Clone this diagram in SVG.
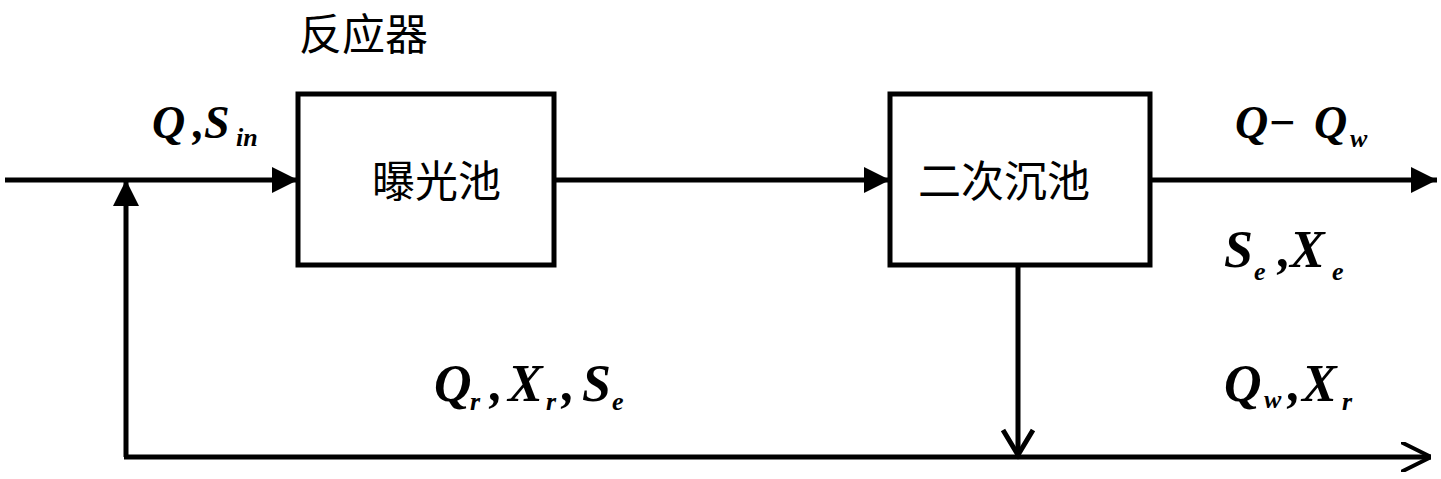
<svg xmlns="http://www.w3.org/2000/svg" width="1441" height="479" viewBox="0 0 1441 479">
<style>
.box{fill:#fff;stroke:#000;stroke-width:5}
.ln{fill:none;stroke:#000;stroke-width:5}
.cn{font-family:"Noto Sans CJK SC","Noto Sans CJK JP",sans-serif;font-size:43px;fill:#000}
.m{font-family:"Liberation Serif",serif;font-style:italic;font-weight:bold;font-size:46px;fill:#000}
.b{font-size:52px}
.s{font-size:26px}
</style>
<defs>
<marker id="fa" viewBox="0 0 10 10" refX="10" refY="5" markerWidth="26" markerHeight="26" markerUnits="userSpaceOnUse" orient="auto">
<path d="M0,0 L10,5 L0,10 Z" fill="#000"/>
</marker>
<marker id="oa" viewBox="0 0 10 10" refX="10" refY="5" markerWidth="30" markerHeight="30" markerUnits="userSpaceOnUse" orient="auto">
<path d="M0,0 L10,5 L0,10" fill="none" stroke="#000" stroke-width="1.3"/>
</marker>
</defs>
<text class="cn" x="299" y="50">反应器</text>
<g id="connectors">
<line class="ln" x1="5" y1="180" x2="298" y2="180" marker-end="url(#fa)"/>
<line class="ln" x1="555" y1="180" x2="890" y2="180" marker-end="url(#fa)"/>
<line class="ln" x1="1150" y1="180" x2="1437" y2="180" marker-end="url(#fa)"/>
<line class="ln" x1="126" y1="457" x2="126" y2="180" marker-end="url(#fa)"/>
<polyline class="ln" points="1018,265 1018,456"/>
<path class="ln" d="M1003,430 L1018,455 L1033,430"/>
<line class="ln" x1="124" y1="457" x2="1431" y2="457" marker-end="url(#oa)"/>
</g>
<g id="aeration">
<rect class="box" x="298" y="94" width="256" height="171"/>
<text class="cn" x="372" y="197">曝光池</text>
</g>
<g id="clarifier">
<rect class="box" x="890" y="94" width="260" height="171"/>
<text class="cn" x="918" y="197">二次沉池</text>
</g>
<g id="labels">
<text class="m" y="138"><tspan x="152">Q</tspan><tspan x="193">,</tspan><tspan x="204">S</tspan><tspan class="s" x="236" y="146">in</tspan></text>
<text class="m" y="138"><tspan x="1235">Q</tspan><tspan x="1268">−</tspan><tspan x="1314">Q</tspan><tspan class="s" x="1350" y="147">w</tspan></text>
<text class="m b" y="267"><tspan x="1224">S</tspan><tspan class="s" x="1254" y="280">e</tspan><tspan x="1278" y="267">,</tspan><tspan x="1290">X</tspan><tspan class="s" x="1332" y="280">e</tspan></text>
<text class="m b" y="401"><tspan x="434">Q</tspan><tspan class="s" x="470" y="410">r</tspan><tspan x="490" y="401">,</tspan><tspan x="508">X</tspan><tspan class="s" x="546" y="410">r</tspan><tspan x="562" y="401">,</tspan><tspan x="582">S</tspan><tspan class="s" x="612" y="410">e</tspan></text>
<text class="m b" y="401"><tspan x="1224">Q</tspan><tspan class="s" x="1264" y="408">w</tspan><tspan x="1288" y="401">,</tspan><tspan x="1302">X</tspan><tspan class="s" x="1342" y="410">r</tspan></text>
</g>
</svg>
